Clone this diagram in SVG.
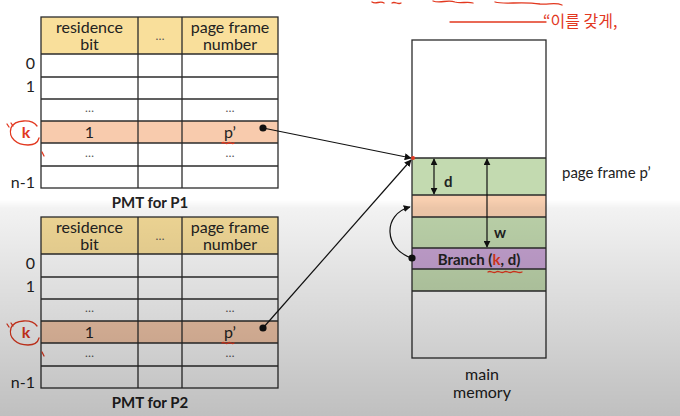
<svg xmlns="http://www.w3.org/2000/svg" width="680" height="416" viewBox="0 0 680 416">
  <defs>
    <marker id="arrow" viewBox="0 0 10 10" refX="9" refY="5" markerWidth="7" markerHeight="7" orient="auto-start-reverse" markerUnits="userSpaceOnUse">
      <path d="M0,0 L10,5 L0,10 z" fill="#111"/>
    </marker>
    <linearGradient id="shade" x1="0" y1="0" x2="0" y2="416" gradientUnits="userSpaceOnUse">
      <stop offset="0" stop-color="#000" stop-opacity="0"/>
      <stop offset="0.48" stop-color="#000" stop-opacity="0"/>
      <stop offset="0.5" stop-color="#000" stop-opacity="0.05"/>
      <stop offset="1" stop-color="#000" stop-opacity="0.25"/>
    </linearGradient>
    <!-- one page map table, drawn at origin; translated per process -->
    <g id="pmt">
      <rect x="41" y="17" width="237" height="37" fill="#f9df9b"/>
      <rect x="41" y="54" width="237" height="134" fill="#ffffff"/>
      <rect x="41" y="121" width="237" height="22" fill="#f8cbad"/>
      <g class="grid">
        <rect x="41" y="17" width="237" height="171" fill="none"/>
        <line x1="41" y1="54" x2="278" y2="54"/>
        <line x1="41" y1="77" x2="278" y2="77"/>
        <line x1="41" y1="99" x2="278" y2="99"/>
        <line x1="41" y1="121" x2="278" y2="121"/>
        <line x1="41" y1="143" x2="278" y2="143"/>
        <line x1="41" y1="166" x2="278" y2="166" stroke-width="2.2"/>
        <line x1="138" y1="17" x2="138" y2="188"/>
        <line x1="182" y1="17" x2="182" y2="188"/>
      </g>
      <text class="t" x="89.5" y="33">residence</text>
      <text class="t" x="89.5" y="50">bit</text>
      <text class="dots" x="160" y="40">…</text>
      <text class="t" x="230" y="33">page frame</text>
      <text class="t" x="230" y="50">number</text>
      <text class="dots" x="89.5" y="112">…</text>
      <text class="dots" x="230" y="112">…</text>
      <text class="t" x="89.5" y="138">1</text>
      <text class="t" x="230" y="138">p’</text>
      <text class="dots" x="89.5" y="157">…</text>
      <text class="dots" x="230" y="157">…</text>
      <text class="lbl" x="35" y="69">0</text>
      <text class="lbl" x="35" y="92">1</text>
      <text class="lbl" x="35" y="188">n-1</text>
      <circle cx="263" cy="128" r="3.6" fill="#111"/>
      <!-- pen marks -->
      <path class="pen" d="M37,126 C32,119 15,119 11,128 C8,138 17,145 28,145 C34,145 38,142 39,138"/>
      <text class="redk" x="26" y="138">k</text>
      <path class="pen" d="M7,124 l2,3 M11,123 l2,3 M42,152 l2,4"/>
      <path class="pen" d="M222,143 c2,-2 4,2 6,0 c2,-2 4,2 6,0"/>
    </g>
  </defs>
  <style>
    .grid line, .grid rect { stroke: #2b2b2b; stroke-width: 1.3; }
    text { font-family: Lato, "Liberation Sans", sans-serif; fill: #222; }
    .t { font-size: 16px; text-anchor: middle; }
    .dots { font-size: 12px; text-anchor: middle; fill: #555; }
    .lbl { font-size: 16px; text-anchor: end; }
    .title { font-size: 15px; font-weight: bold; text-anchor: middle; }
    .bold { font-size: 15px; font-weight: bold; }
    .pen { fill: none; stroke: #e2381f; stroke-width: 1.3; stroke-linecap: round; }
    .redk { font-size: 16px; font-weight: bold; fill: #e2381f; text-anchor: middle; }
    .mem { stroke: #2b2b2b; stroke-width: 1.3; }
    .conn { stroke: #111; stroke-width: 1.2; fill: none; }
  </style>

  <rect width="680" height="416" fill="#ffffff"/>

  <!-- handwritten notes along the top edge -->
  <g id="notes">
    <path class="pen" d="M372,2 c4,3 8,-2 12,1 M392,3 c3,-2 6,2 9,0 M433,1 c8,3 14,-2 22,1 c6,2 12,-1 18,1 M495,2 c10,3 25,-1 45,2 c8,1 15,-2 22,1"/>
    <line class="pen" x1="450" y1="22" x2="546" y2="22"/>
    <text x="543" y="27" font-size="16" style="font-family: 'Noto Sans CJK KR', sans-serif; fill:#e2381f;">“이를 갖게,</text>
  </g>

  <g id="pmt-p1">
    <use href="#pmt"/>
    <text class="title" x="150" y="208">PMT for P1</text>
  </g>

  <g id="pmt-p2">
    <use href="#pmt" transform="translate(0,200)"/>
    <text class="title" x="150" y="408">PMT for P2</text>
  </g>

  <g id="main-memory">
    <rect x="412" y="40" width="134" height="318" fill="#ffffff"/>
    <rect x="412" y="158" width="134" height="37" fill="#c3dab0"/>
    <rect x="412" y="195" width="134" height="22" fill="#f8cfb0"/>
    <rect x="412" y="217" width="134" height="31" fill="#c3dab0"/>
    <rect x="412" y="248" width="134" height="21" fill="#caa6d6"/>
    <rect x="412" y="269" width="134" height="22" fill="#c3dab0"/>
    <g class="mem" fill="none">
      <rect x="412" y="40" width="134" height="318"/>
      <line x1="412" y1="158" x2="546" y2="158"/>
      <line x1="412" y1="195" x2="546" y2="195"/>
      <line x1="412" y1="217" x2="546" y2="217"/>
      <line x1="412" y1="248" x2="546" y2="248"/>
      <line x1="412" y1="269" x2="546" y2="269"/>
      <line x1="412" y1="291" x2="546" y2="291"/>
    </g>
    <text class="bold" x="479" y="265" text-anchor="middle" font-size="15.5">Branch (<tspan fill="#e2381f">k</tspan>, d)</text>
    <path class="pen" d="M488,272 c3,-2 5,2 8,0 c3,-2 5,2 8,0 c3,-2 5,2 8,0 c3,-2 6,2 10,0"/>
    <text x="562" y="178" font-size="15">page frame p’</text>
    <text x="482" y="380" font-size="16" text-anchor="middle">main</text>
    <text x="482" y="398" font-size="16" text-anchor="middle">memory</text>
  </g>

  <g id="connectors">
    <line class="conn" x1="263" y1="128" x2="411" y2="158" marker-end="url(#arrow)"/>
    <line class="conn" x1="263" y1="328" x2="411" y2="160" marker-end="url(#arrow)"/>
    <line class="conn" x1="434" y1="159" x2="434" y2="194" marker-start="url(#arrow)" marker-end="url(#arrow)"/>
    <text class="bold" x="444" y="187">d</text>
    <line class="conn" x1="487" y1="159" x2="487" y2="247" marker-start="url(#arrow)" marker-end="url(#arrow)"/>
    <text class="bold" x="494" y="238">w</text>
    <path class="conn" d="M412,258 C384,250 382,214 410,207" marker-end="url(#arrow)"/>
    <circle cx="412" cy="258" r="3.6" fill="#111"/>
    <circle cx="413" cy="158" r="2" fill="#e2381f"/>
  </g>

  <!-- soft shading toward the bottom edge -->
  <rect width="680" height="416" fill="url(#shade)" pointer-events="none"/>
</svg>
